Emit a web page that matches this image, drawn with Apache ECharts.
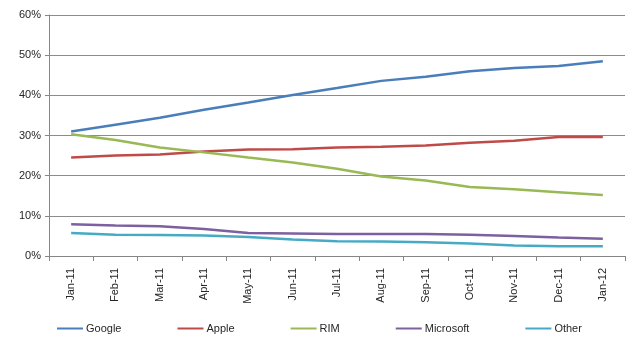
<!DOCTYPE html>
<html>
<head>
<meta charset="utf-8">
<script src="https://cdn.jsdelivr.net/npm/echarts@6/dist/echarts.min.js"></script>
<style>
  html, body { margin: 0; padding: 0; background: #fff; }
  #chart { width: 640px; height: 354px; }
</style>
</head>
<body>
<div id="chart"></div>
<script>
const months = ["Jan-11", "Feb-11", "Mar-11", "Apr-11", "May-11", "Jun-11", "Jul-11",
  "Aug-11", "Sep-11", "Oct-11", "Nov-11", "Dec-11", "Jan-12"];

const google = [31.0, 32.7, 34.4, 36.4, 38.2, 40.1, 41.8, 43.6, 44.6, 46.0, 46.8, 47.3, 48.5];
const apple = [24.5, 25.0, 25.3, 26.0, 26.5, 26.6, 27.0, 27.2, 27.5, 28.2, 28.7, 29.6, 29.6];
const rim = [30.3, 28.9, 27.0, 25.8, 24.5, 23.3, 21.7, 19.8, 18.8, 17.2, 16.6, 15.9, 15.2];
const microsoft = [7.9, 7.6, 7.4, 6.7, 5.7, 5.6, 5.5, 5.5, 5.5, 5.3, 5.0, 4.6, 4.3];
const other = [5.7, 5.3, 5.2, 5.1, 4.7, 4.1, 3.7, 3.6, 3.4, 3.1, 2.6, 2.4, 2.4];

const font = "'Liberation Sans', Arial, sans-serif";

function makeLine(name, data, color) {
  return {
    name,
    type: "line",
    data,
    symbol: "none",
    smooth: false,
    lineStyle: { width: 2.5, color },
    itemStyle: { color },
    animation: false,
  };
}

const chart = echarts.init(document.getElementById("chart"));

chart.setOption({
  textStyle: { fontFamily: font },
  grid: { left: 49, right: 15, top: 15, bottom: 98 },
  legend: {
    bottom: 15,
    left: 52,
    itemGap: 56,
    itemWidth: 26,
    itemHeight: 2,
    icon: "rect",
    textStyle: { fontSize: 11, color: "#262626", fontFamily: font, padding: [0, 0, 0, -2] },
    data: ["Google", "Apple", "RIM", "Microsoft", "Other"],
  },
  xAxis: {
    type: "category",
    data: months,
    boundaryGap: true,
    axisLine: { lineStyle: { color: "#868686", width: 1 } },
    axisTick: { show: true, length: 5, lineStyle: { color: "#868686" } },
    axisLabel: { rotate: 90, fontSize: 11, color: "#262626", margin: 12, interval: 0 },
  },
  yAxis: {
    type: "value",
    min: 0,
    max: 60,
    interval: 10,
    axisLine: { show: true, lineStyle: { color: "#868686", width: 1 } },
    axisTick: { show: true, length: 4, lineStyle: { color: "#868686" } },
    axisLabel: { formatter: "{value}%", fontSize: 11, color: "#262626", margin: 8 },
    splitLine: { lineStyle: { color: "#8c8c8c", width: 1 } },
  },
  series: [
    makeLine("Google", google, "#4a7ebb"),
    makeLine("Apple", apple, "#be4b48"),
    makeLine("RIM", rim, "#98b954"),
    makeLine("Microsoft", microsoft, "#7d60a0"),
    makeLine("Other", other, "#46aac5"),
  ],
});
</script>
</body>
</html>
